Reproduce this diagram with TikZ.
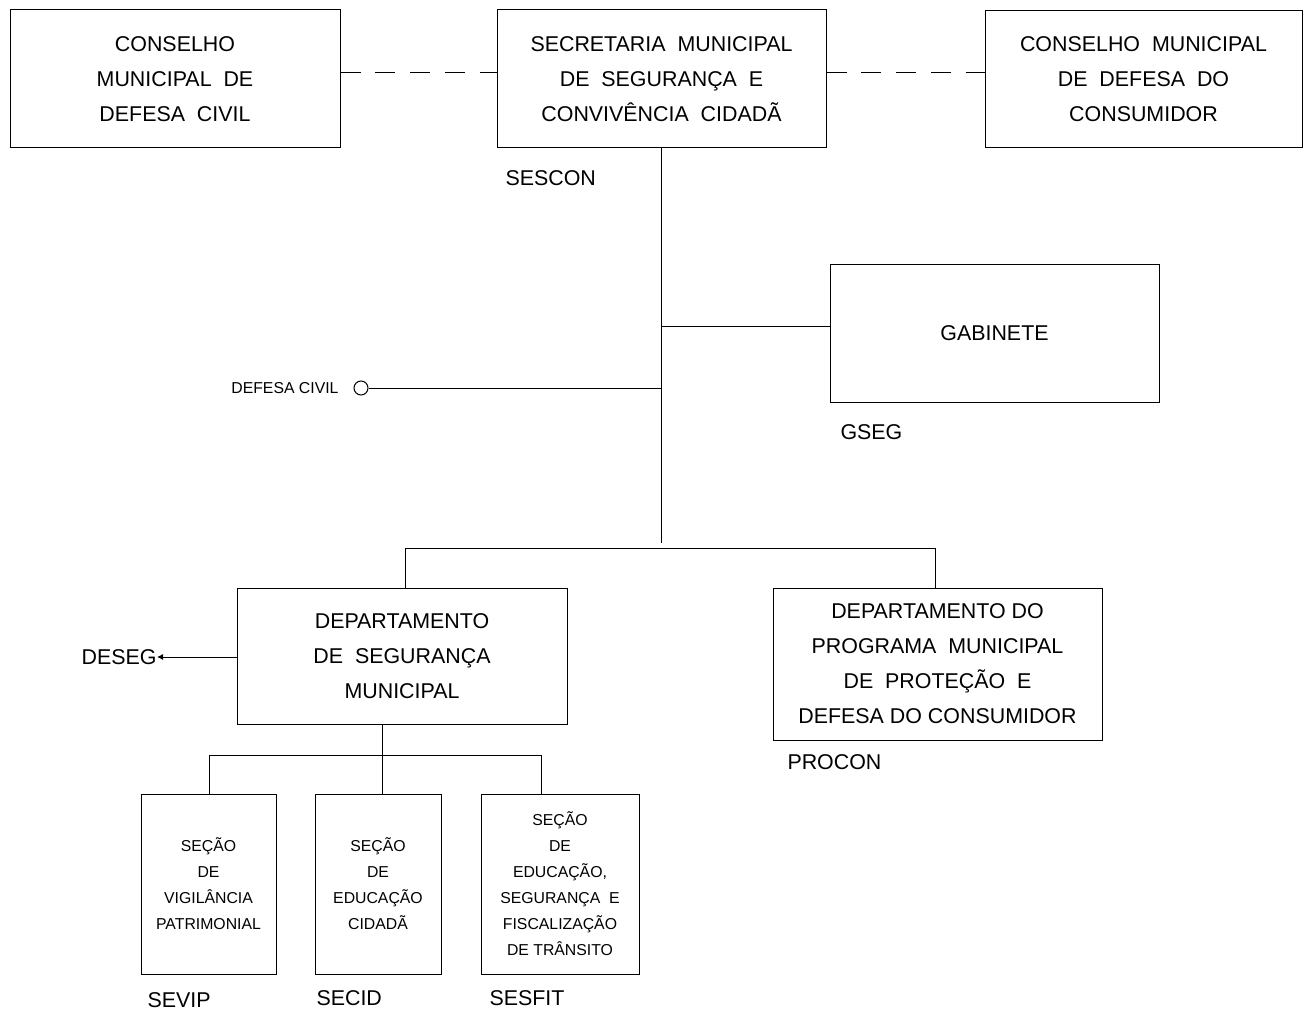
\documentclass[tikz,border=0pt]{standalone}
\usepackage{fontspec}
\setmainfont{Liberation Sans}
\usetikzlibrary{positioning,arrows.meta}

\begin{document}
\begin{tikzpicture} [x=0.5pt, y=-0.5pt, line width=0.5pt,
                    caixa/.style={rectangle,draw,align=center,inner sep=0pt,font=\fontsize{10.7}{17.5}\selectfont},
                    secao/.style={rectangle,draw,align=center,inner sep=0pt,minimum height=90pt,font=\fontsize{7.9}{13}\selectfont},
                    sigla/.style={anchor=west,inner sep=0pt,font=\fontsize{10.7}{12}\selectfont},
                    tracejado/.style={dash pattern=on 10pt off 7.4pt}]

\useasboundingbox (0,0) rectangle (1303,1011);

\node[caixa, minimum width=165pt, minimum height=69pt] (cmdc) at (175,79) {CONSELHO\\MUNICIPAL~ DE\\DEFESA~ CIVIL};
\node[caixa, minimum width=164.5pt, minimum height=69pt] (sescon) at (661.5,79) {SECRETARIA~ MUNICIPAL\\DE~ SEGURANÇA~ E\\CONVIVÊNCIA~ CIDADÃ};
\node[caixa, minimum width=158.5pt, minimum height=68.5pt] (cmdcon) at (1143.5,79) {CONSELHO~ MUNICIPAL\\DE~ DEFESA~ DO\\CONSUMIDOR};
\node[caixa, minimum width=164.5pt, minimum height=68.5pt] (gseg) at (994.5,333.5) {GABINETE};
\node[caixa, minimum width=165pt, minimum height=68pt] (deseg) at (402,656) {DEPARTAMENTO\\DE~ SEGURANÇA\\MUNICIPAL};
\node[caixa, minimum width=164.5pt, minimum height=76pt] (procon) at (937.5,664) {DEPARTAMENTO DO\\PROGRAMA~ MUNICIPAL\\DE~ PROTEÇÃO~ E\\DEFESA DO CONSUMIDOR};

\node[secao, minimum width=67.5pt] (sevip) at (208.5,884) {SEÇÃO\\DE\\VIGILÂNCIA\\PATRIMONIAL};
\node[secao, minimum width=63pt] (secid) at (378,884) {SEÇÃO\\DE\\EDUCAÇÃO\\CIDADÃ};
\node[secao, minimum width=79pt] (sesfit) at (560,884) {SEÇÃO\\DE\\EDUCAÇÃO,\\SEGURANÇA~ E\\FISCALIZAÇÃO\\DE TRÂNSITO};

% siglas
\node[sigla] (lsescon) at (505,178) {SESCON};
\node[sigla] (lgseg) at (840,432) {GSEG};
\node[sigla] (lprocon) at (787,762) {PROCON};
\node[sigla] (lsevip) at (147,1000) {SEVIP};
\node[sigla] (lsecid) at (316,998) {SECID};
\node[sigla] (lsesfit) at (489,998) {SESFIT};
\node[sigla, anchor=east] (ldeseg) at (157,657) {DESEG};

% defesa civil
\node[circle, draw, inner sep=0pt, minimum size=7pt] (dc) at (361,388) {};
\node[anchor=east, inner sep=0pt, font=\fontsize{7.9}{8}\selectfont] (ldc) at (339,388) {DEFESA CIVIL};

\coordinate (fim) at (661,543);
\coordinate (esq) at (405,548);
\coordinate (dir) at (935,548);
\coordinate (m1) at (209,755);
\coordinate (m2) at (382,755);
\coordinate (m3) at (541,755);

\draw[tracejado] (cmdc.east |- 0,73) -- (sescon.west |- 0,73);
\draw[tracejado] (sescon.east |- 0,73) -- (cmdcon.west |- 0,73);

\draw (sescon.south -| fim) -- (fim);
\draw (fim |- 0,326) -- (gseg.west |- 0,326);
\draw (dc.east) -- (fim |- dc.east);

\draw (esq) -- (dir);
\draw (esq) -- (esq |- deseg.north);
\draw (dir) -- (dir |- procon.north);

\draw[-{Latex[length=3pt,width=3pt]}] (deseg.west |- ldeseg.east) -- (ldeseg.east);

\draw (m1) -- (m3);
\draw (m2 |- deseg.south) -- (m2 |- secid.north);
\draw (m1) -- (m1 |- sevip.north);
\draw (m3) -- (m3 |- sesfit.north);
\end{tikzpicture}
\end{document}
